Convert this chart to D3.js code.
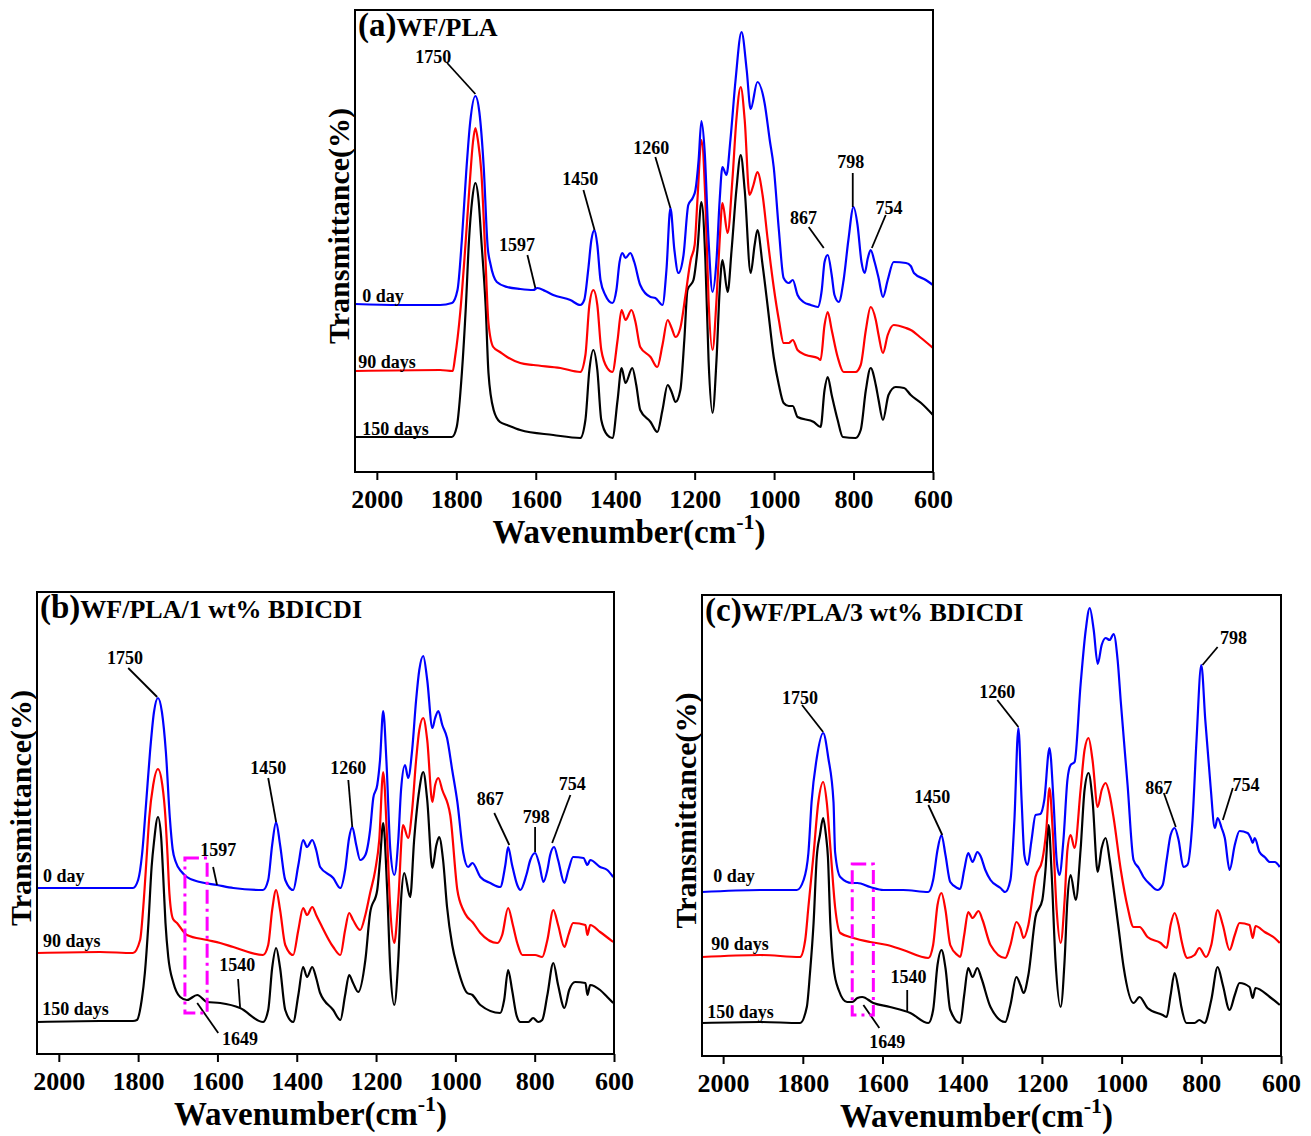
<!DOCTYPE html>
<html>
<head>
<meta charset="utf-8">
<script src="https://cdn.jsdelivr.net/npm/d3@7"></script>
<style>
  body { margin: 0; background: #fff; }
  text { font-family: "Liberation Serif", "Times New Roman", serif; font-weight: bold; }
</style>
</head>
<body>
<script>
// x ticks shared by all panels
const wavenumberTicks = [2000, 1800, 1600, 1400, 1200, 1000, 800, 600];
const seriesNames = ['0 day', '90 days', '150 days'];

// ---- panel (a) WF/PLA : [wavenumber, transmittance a.u.]
const a_day0 = [[2055,168],[1942,167],[1841,167],[1811,169],[1797,182],[1786,232],[1775,300],[1765,350],[1752,376],[1742,360],[1731,305],[1721,225],[1714,208],[1698,190],[1672,185],[1639,183],[1606,182],[1596,184],[1576,181],[1556,177],[1513,172],[1488,167],[1478,172],[1468,202],[1460,232],[1452,242],[1445,227],[1437,192],[1425,177],[1407,169],[1397,182],[1389,210],[1382,219],[1374,214],[1362,219],[1352,210],[1337,187],[1311,175],[1299,174],[1281,167],[1271,202],[1261,264],[1251,222],[1241,199],[1228,217],[1216,267],[1205,274],[1198,282],[1190,312],[1183,351],[1175,322],[1165,232],[1155,180],[1145,212],[1137,272],[1130,305],[1120,297],[1110,332],[1097,392],[1082,440],[1069,402],[1059,363],[1042,390],[1024,369],[1011,332],[1001,305],[988,242],[976,194],[963,189],[953,192],[941,177],[926,170],[908,167],[890,165],[880,182],[873,210],[865,217],[855,197],[848,177],[837,170],[825,192],[813,232],[800,265],[790,247],[780,210],[772,199],[764,214],[757,222],[747,210],[737,194],[726,175],[714,192],[699,210],[668,209],[656,206],[648,199],[618,192],[600,187]];
const a_day90 = [[2055,101],[1841,102],[1809,101],[1803,115],[1790,160],[1777,227],[1766,290],[1758,330],[1752,344],[1745,330],[1737,300],[1728,227],[1719,149],[1707,125],[1690,120],[1672,115],[1639,109],[1606,107],[1538,104],[1488,100],[1475,117],[1465,167],[1455,182],[1445,167],[1435,122],[1420,104],[1407,100],[1394,132],[1384,162],[1374,152],[1359,162],[1349,150],[1337,125],[1311,115],[1294,105],[1281,127],[1268,152],[1258,144],[1248,135],[1236,144],[1223,177],[1210,212],[1200,227],[1193,272],[1183,332],[1173,272],[1165,172],[1155,122],[1145,172],[1137,232],[1130,269],[1117,239],[1105,292],[1095,352],[1084,385],[1074,352],[1062,277],[1052,287],[1042,300],[1029,277],[1016,232],[1001,185],[988,152],[976,129],[963,129],[953,132],[941,122],[920,117],[890,114],[883,112],[873,147],[865,160],[855,142],[840,115],[825,100],[795,100],[782,107],[769,142],[757,165],[744,152],[737,137],[726,119],[714,137],[699,147],[668,144],[656,142],[630,134],[600,124]];
const a_day150 = [[2055,35],[1841,35],[1811,35],[1799,45],[1786,99],[1776,165],[1768,232],[1760,272],[1752,289],[1744,272],[1737,232],[1726,165],[1719,99],[1706,62],[1690,50],[1672,47],[1639,42],[1556,37],[1488,34],[1475,52],[1465,102],[1455,122],[1445,102],[1435,52],[1420,37],[1407,34],[1394,72],[1384,104],[1374,89],[1357,104],[1347,87],[1337,62],[1311,50],[1294,40],[1281,62],[1268,87],[1258,80],[1248,70],[1236,82],[1226,132],[1218,182],[1203,192],[1193,222],[1183,270],[1173,212],[1165,112],[1155,59],[1145,112],[1137,182],[1130,212],[1117,180],[1107,222],[1095,282],[1084,317],[1074,282],[1059,199],[1049,227],[1042,242],[1029,207],[1016,165],[1001,115],[988,87],[976,69],[963,66],[953,66],[941,55],[900,50],[883,45],[873,82],[865,95],[855,77],[840,52],[827,35],[795,34],[782,42],[769,82],[757,104],[744,87],[737,72],[726,52],[712,77],[694,85],[673,84],[656,77],[630,69],[600,57]];

// ---- panel (b) WF/PLA/1 wt% BDICDI
const b_day0 = [[2055,166],[1896,166],[1813,166],[1800,174],[1790,200],[1780,250],[1770,302],[1760,342],[1750,356],[1740,342],[1730,302],[1720,236],[1713,205],[1705,192],[1690,182],[1677,177],[1644,172],[1601,169],[1560,166],[1485,164],[1472,174],[1462,209],[1452,232],[1442,209],[1429,174],[1409,164],[1396,189],[1384,214],[1374,207],[1361,214],[1351,204],[1341,187],[1308,176],[1290,166],[1278,184],[1268,216],[1260,227],[1250,209],[1240,194],[1227,199],[1215,224],[1207,256],[1197,269],[1190,294],[1182,343],[1174,294],[1164,204],[1154,179],[1144,214],[1137,264],[1127,289],[1119,276],[1109,304],[1099,354],[1091,384],[1081,398],[1071,374],[1058,326],[1051,336],[1043,343],[1033,329],[1021,316],[1008,284],[995,252],[980,201],[968,187],[957,191],[937,177],[912,171],[887,167],[874,189],[867,207],[857,189],[844,169],[836,164],[821,179],[811,194],[799,201],[788,189],[778,172],[768,184],[761,199],[751,207],[741,194],[725,171],[715,184],[703,197],[677,196],[667,189],[660,194],[635,187],[617,184],[602,177]];
const b_day90 = [[2055,101],[1896,102],[1813,101],[1795,114],[1787,147],[1778,200],[1772,236],[1762,269],[1750,285],[1739,269],[1731,236],[1726,200],[1721,160],[1712,135],[1702,131],[1677,119],[1626,114],[1593,111],[1560,107],[1485,99],[1472,109],[1462,144],[1452,164],[1442,144],[1429,109],[1409,99],[1396,124],[1384,146],[1374,139],[1361,147],[1351,139],[1341,131],[1308,107],[1290,99],[1278,124],[1268,141],[1258,134],[1240,124],[1227,139],[1215,161],[1202,184],[1192,214],[1182,282],[1172,214],[1164,144],[1154,111],[1144,154],[1132,229],[1119,216],[1109,244],[1099,294],[1091,324],[1081,336],[1071,314],[1058,252],[1051,269],[1043,276],[1033,264],[1013,239],[995,164],[980,144],[970,137],[957,132],[937,121],[894,111],[882,119],[867,146],[855,129],[844,111],[831,99],[799,99],[781,97],[768,114],[753,144],[741,129],[725,107],[715,119],[703,131],[672,129],[667,119],[660,129],[635,122],[602,112]];
const b_day150 = [[2055,32],[1896,33],[1813,33],[1803,34],[1791,54],[1783,81],[1774,131],[1766,187],[1760,212],[1750,237],[1742,217],[1737,180],[1731,131],[1724,97],[1711,71],[1694,57],[1677,54],[1651,59],[1626,52],[1593,51],[1543,46],[1485,32],[1472,44],[1462,86],[1452,106],[1442,86],[1429,44],[1409,32],[1396,59],[1384,87],[1374,77],[1361,87],[1351,76],[1341,61],[1308,44],[1290,34],[1278,59],[1268,79],[1258,71],[1245,62],[1227,94],[1215,141],[1197,164],[1190,194],[1182,231],[1172,164],[1164,84],[1154,49],[1144,94],[1137,154],[1129,181],[1114,157],[1104,214],[1091,264],[1081,282],[1071,254],[1058,186],[1048,209],[1041,217],[1031,194],[1021,147],[1008,109],[995,87],[970,61],[957,59],[937,49],[887,41],[877,54],[867,84],[857,64],[846,39],[836,32],[816,32],[804,36],[791,32],[781,34],[768,59],[753,91],[741,69],[725,46],[713,64],[698,72],[672,71],[667,59],[660,69],[635,64],[617,57],[602,51]];

// ---- panel (c) WF/PLA/3 wt% BDICDI
const c_day0 = [[2053,164],[1907,166],[1815,166],[1798,176],[1786,203],[1778,254],[1765,298],[1749,323],[1736,298],[1723,254],[1719,204],[1706,179],[1677,173],[1663,173],[1631,169],[1598,166],[1548,166],[1485,164],[1473,176],[1462,206],[1452,221],[1442,201],[1430,174],[1412,168],[1405,167],[1395,186],[1385,203],[1374,194],[1362,204],[1354,200],[1342,186],[1329,176],[1304,168],[1292,164],[1279,176],[1269,236],[1259,328],[1251,256],[1244,201],[1236,191],[1226,216],[1216,241],[1204,242],[1194,256],[1181,308],[1171,256],[1163,196],[1156,181],[1146,216],[1136,276],[1128,291],[1118,294],[1103,371],[1090,426],[1080,448],[1070,426],[1060,392],[1050,411],[1040,418],[1030,416],[1020,422],[1010,396],[1002,354],[985,271],[970,196],[957,188],[945,179],[927,171],[910,166],[897,171],[887,196],[877,221],[867,228],[857,216],[845,189],[835,191],[822,236],[812,316],[800,391],[790,336],[777,271],[766,228],[759,238],[749,228],[741,218],[729,186],[716,211],[704,225],[684,223],[676,218],[671,213],[666,218],[654,204],[641,199],[628,194],[616,194],[603,189]];
const c_day90 = [[2053,99],[1907,101],[1807,99],[1794,116],[1786,149],[1773,202],[1761,254],[1749,274],[1740,254],[1730,204],[1719,149],[1706,123],[1673,118],[1631,114],[1588,111],[1548,106],[1485,98],[1473,111],[1462,151],[1452,163],[1442,146],[1430,111],[1412,101],[1405,99],[1395,121],[1385,144],[1374,138],[1359,145],[1349,136],[1329,111],[1292,98],[1279,111],[1264,134],[1254,128],[1246,118],[1234,131],[1216,179],[1199,196],[1189,226],[1181,268],[1173,226],[1163,146],[1153,113],[1143,156],[1136,206],[1128,221],[1118,208],[1103,266],[1093,306],[1083,318],[1073,296],[1060,249],[1050,266],[1040,273],[1030,261],[1020,238],[1002,186],[985,149],[970,129],[955,129],[935,119],[902,113],[887,108],[877,131],[867,143],[857,131],[850,116],[835,98],[817,101],[805,108],[788,99],[775,111],[759,146],[746,131],[729,106],[716,121],[704,133],[679,131],[671,118],[664,130],[641,124],[616,118],[603,113]];
const c_day150 = [[2053,33],[1907,34],[1807,33],[1790,49],[1782,83],[1773,133],[1765,199],[1757,221],[1749,238],[1742,221],[1737,199],[1731,133],[1723,89],[1710,66],[1689,54],[1676,54],[1663,58],[1651,59],[1623,53],[1581,49],[1530,43],[1485,33],[1473,46],[1462,91],[1452,106],[1442,88],[1430,46],[1405,33],[1395,61],[1385,88],[1374,79],[1362,88],[1352,78],[1329,49],[1292,34],[1279,51],[1264,79],[1254,71],[1246,63],[1234,81],[1216,139],[1199,156],[1191,186],[1183,231],[1176,186],[1166,96],[1153,49],[1143,96],[1136,156],[1128,181],[1115,156],[1103,206],[1093,266],[1083,283],[1073,256],[1060,184],[1050,208],[1040,218],[1030,196],[1020,166],[1007,126],[995,89],[970,53],[955,59],[935,48],[897,41],[887,39],[877,61],[867,83],[857,66],[850,49],[837,33],[817,33],[805,36],[792,33],[775,56],[759,89],[746,71],[729,46],[716,61],[704,73],[679,69],[671,58],[664,68],[628,59],[603,51]];

// peak call-outs: [label, textW, textV, fromW, fromV, toW, toV]
const a_marks = [['1750',1858,415,1823,409,1752,378],['1450',1488,293,1480,282,1452,242],['1597',1647,227,1621,217,1601,184],['1260',1309,324,1299,315,1261,264],['798',807,310,802,299,802,265],['867',926,254,913,245,875,224],['754',711,264,719,257,754,224]];
const b_marks = [['1750',1833,396,1825,386,1752,357],['1450',1472,286,1472,276,1452,232],['1597',1598,204,1611,187,1601,169],['1260',1270,286,1270,274,1260,227],['867',912,255,902,241,864,209],['798',796,237,799,227,799,202],['754',705,270,710,259,756,211],['1540',1550,89,1548,75,1543,47],['1649',1543,15,1598,21,1651,51]];
const c_marks = [['1750',1807,358,1802,351,1749,324],['1450',1475,259,1485,251,1450,221],['1260',1312,364,1312,356,1259,329],['798',719,418,759,409,797,391],['867',907,268,894,263,864,229],['754',688,271,721,268,746,236],['1540',1535,79,1538,66,1538,44],['1649',1588,14,1608,28,1648,51]];

// highlighted region [w1, w2, v1, v2]
const b_box = [1682, 1626, 41, 196];
const c_box = [1676, 1623, 41, 192];

const colors = ['#0000ff', '#ff0000', '#000000'];

const svg = d3.select('body').append('svg')
  .attr('width', 1311)
  .attr('height', 1136);

const panels = [
  {tag:'(a)', name:'WF/PLA', left:355, top:10, right:933, bottom:472, wMax:2055,
   series:[a_day0, a_day90, a_day150], marks:a_marks, box:null,
   labels:[[2037,170],[2047,104],[2037,37]]},
  {tag:'(b)', name:'WF/PLA/1 wt% BDICDI', left:37, top:592, right:614, bottom:1054, wMax:2055,
   series:[b_day0, b_day90, b_day150], marks:b_marks, box:b_box,
   labels:[[2040,172],[2040,107],[2042,39]]},
  {tag:'(c)', name:'WF/PLA/3 wt% BDICDI', left:702, top:595, right:1281, bottom:1056, wMax:2053,
   series:[c_day0, c_day90, c_day150], marks:c_marks, box:c_box,
   labels:[[2025,174],[2030,106],[2040,38]]}
];

function drawPanel(p) {
  const innerHeight = p.bottom - p.top;

  const x = d3.scaleLinear()
    .domain([p.wMax, 600])
    .range([p.left, p.right]);

  const y = d3.scaleLinear()
    .domain([0, innerHeight])
    .range([p.bottom, p.top]);

  const g = svg.append('g');

  const line = d3.line()
    .x(d => x(d[0]))
    .y(d => y(d[1]))
    .curve(d3.curveMonotoneX);

  // spectra, black first so blue sits on top
  [2, 1, 0].forEach(i => {
    g.append('path')
      .datum(p.series[i])
      .attr('d', line)
      .attr('fill', 'none')
      .attr('stroke', colors[i])
      .attr('stroke-width', 2.2)
      .attr('stroke-linejoin', 'round');
  });

  // frame
  g.append('rect')
    .attr('x', p.left)
    .attr('y', p.top)
    .attr('width', p.right - p.left)
    .attr('height', innerHeight)
    .attr('fill', 'none')
    .attr('stroke', '#000')
    .attr('stroke-width', 2);

  const xAxisG = g.append('g')
    .attr('transform', `translate(0,${p.bottom})`)
    .call(d3.axisBottom(x)
      .tickValues(wavenumberTicks)
      .tickFormat(d3.format('d'))
      .tickSize(8)
      .tickPadding(10)
      .tickSizeOuter(0));

  xAxisG.select('.domain').remove();
  xAxisG.selectAll('.tick line').attr('stroke-width', 2);
  xAxisG.selectAll('.tick text')
    .style('font-size', '26px')
    .style('font-family', '"Liberation Serif", serif')
    .style('font-weight', 'bold')
    .attr('fill', '#000');

  // axis titles
  const xl = g.append('text')
    .attr('x', (p.left + p.right) / 2 - 15)
    .attr('y', p.bottom + 71)
    .attr('text-anchor', 'middle')
    .style('font-size', '33px');
  xl.append('tspan').text('Wavenumber(cm');
  xl.append('tspan').attr('dy', -14).style('font-size', '22px').text('-1');
  xl.append('tspan').attr('dy', 14).text(')');

  g.append('text')
    .attr('transform', `translate(${p.left - 6},${(p.top + p.bottom) / 2 - 15}) rotate(-90)`)
    .attr('text-anchor', 'middle')
    .style('font-size', '30px')
    .text('Transmittance(%)');

  // panel title
  const t = g.append('text')
    .attr('x', p.left + 3)
    .attr('y', p.top + 26);
  t.append('tspan').style('font-size', '33px').text(p.tag);
  t.append('tspan').style('font-size', '26px').text(p.name);

  // series names
  p.labels.forEach((l, i) => {
    g.append('text')
      .attr('x', x(l[0]))
      .attr('y', y(l[1]))
      .style('font-size', '18px')
      .text(seriesNames[i]);
  });

  // call-outs
  p.marks.forEach(m => {
    g.append('line')
      .attr('x1', x(m[3])).attr('y1', y(m[4]))
      .attr('x2', x(m[5])).attr('y2', y(m[6]))
      .attr('stroke', '#000')
      .attr('stroke-width', 1.8);
    g.append('text')
      .attr('x', x(m[1]))
      .attr('y', y(m[2]))
      .attr('dy', '0.35em')
      .attr('text-anchor', 'middle')
      .style('font-size', '18px')
      .text(m[0]);
  });

  if (p.box) {
    const b = p.box;
    g.append('rect')
      .attr('x', x(b[0]))
      .attr('y', y(b[3]))
      .attr('width', x(b[1]) - x(b[0]))
      .attr('height', y(b[2]) - y(b[3]))
      .attr('fill', 'none')
      .attr('stroke', '#ff00ff')
      .attr('stroke-width', 3)
      .attr('stroke-dasharray', '14,5,3,5');
  }
}

panels.forEach(drawPanel);
</script>
</body>
</html>
